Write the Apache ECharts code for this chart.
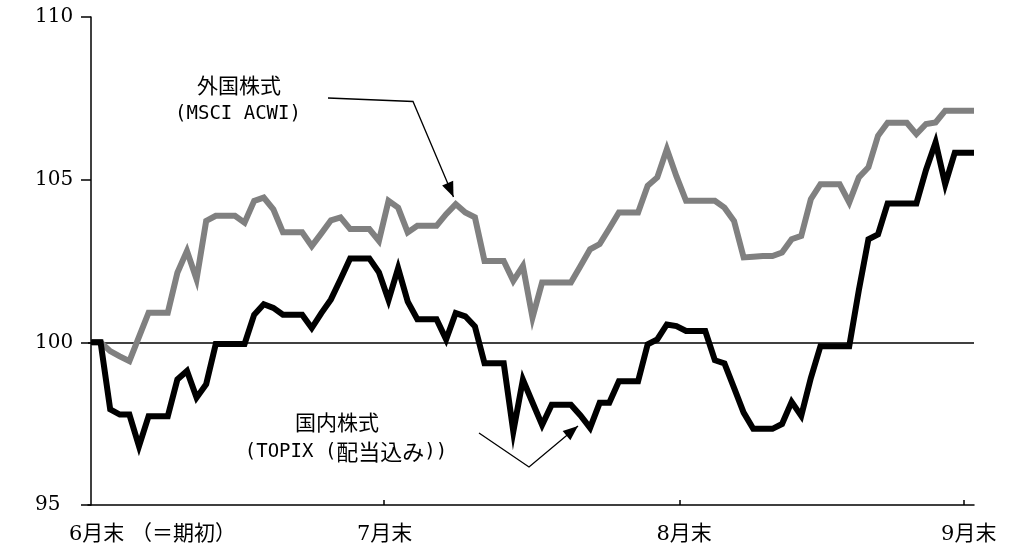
<!DOCTYPE html>
<html><head><meta charset="utf-8">
<script src="https://cdn.jsdelivr.net/npm/echarts@6/dist/echarts.min.js"></script>
<style>html,body{margin:0;padding:0;background:#fff}#c{width:1029px;height:554px}</style>
</head><body><div id="c"></div>
<script>
// Daily values, index 0 = 6/30 ... index 92 = 9/30 (6/30 = 100)
const foreign = [
100.00,100.00,99.73,99.57,99.42,100.17,100.91,100.91,100.91,102.14,
102.81,101.94,103.73,103.89,103.89,103.89,103.68,104.35,104.45,104.09,
103.38,103.38,103.38,102.96,103.35,103.75,103.84,103.48,103.48,103.48,
103.12,104.35,104.14,103.38,103.58,103.58,103.58,103.94,104.25,103.99,
103.84,102.50,102.50,102.50,101.89,102.35,100.76,101.84,101.84,101.84,
101.84,102.35,102.86,103.02,103.50,103.99,103.99,103.99,104.81,105.07,
105.94,105.10,104.35,104.35,104.35,104.35,104.14,103.73,102.61,102.63,
102.65,102.65,102.76,103.17,103.27,104.40,104.86,104.86,104.86,104.30,
105.07,105.38,106.35,106.75,106.75,106.75,106.40,106.71,106.76,107.12,
107.12,107.12,107.12];
const domestic = [
100.00,100.00,97.94,97.78,97.78,96.81,97.73,97.73,97.73,98.86,
99.12,98.30,98.71,99.95,99.95,99.95,99.95,100.85,101.17,101.06,
100.85,100.85,100.85,100.44,100.90,101.32,101.94,102.58,102.58,102.58,
102.15,101.30,102.28,101.25,100.71,100.71,100.71,100.09,100.90,100.80,
100.49,99.36,99.36,99.36,97.26,98.85,98.15,97.46,98.08,98.08,
98.08,97.75,97.37,98.14,98.14,98.80,98.80,98.80,99.94,100.09,
100.55,100.50,100.35,100.35,100.35,99.45,99.35,98.60,97.84,97.34,
97.34,97.34,97.49,98.17,97.74,98.90,99.88,99.88,99.88,99.88,
101.60,103.17,103.32,104.27,104.27,104.27,104.27,105.30,106.15,104.86,
105.83,105.83,105.83];
const yTickValues = [95, 100, 105, 110];
const xTickPos = [30.5, 61.35, 90.95];
const xLabelPos = [6.4, 30.6, 61.8, 91.45];
const xLabelText = ['6月末 （＝期初）', '7月末', '8月末', '9月末'];
const baseLine = 100;

const toPairs = arr => arr.map((v, i) => [i, v]);
const chart = echarts.init(document.getElementById('c'), null, {renderer: 'canvas'});

function arrowHead(p1, p2, len, half) {
  const dx = p2[0] - p1[0], dy = p2[1] - p1[1];
  const L = Math.hypot(dx, dy), ux = dx / L, uy = dy / L;
  const bx = p2[0] - ux * len, by = p2[1] - uy * len;
  return [[p2[0], p2[1]], [bx - uy * half, by + ux * half], [bx + uy * half, by - ux * half]];
}
const arrow1 = [[328, 98], [413, 101.5], [453.5, 197]];
const arrow2 = [[479, 433], [529, 467], [578, 426]];
const cjk = '"Noto Sans CJK JP", sans-serif';
const mono = '"DejaVu Sans Mono", "Noto Sans CJK JP", monospace';

chart.setOption({
  animation: false,
  backgroundColor: '#fff',
  grid: {left: 88, right: 55, top: 17, bottom: 49, containLabel: false},
  xAxis: {
    type: 'value', min: -0.3125, max: 92,
    axisLine: {show: true, lineStyle: {color: '#000', width: 1.5}},
    axisTick: {show: true, inside: true, length: 5, customValues: xTickPos, lineStyle: {color: '#000', width: 1.5}},
    axisLabel: {
      show: true, customValues: xLabelPos, margin: 19,
      color: '#000', fontSize: 21, fontFamily: '"DejaVu Serif", "Noto Sans CJK JP", serif',
      formatter: v => {
        let best = 0;
        xLabelPos.forEach((p, k) => { if (Math.abs(p - v) < Math.abs(xLabelPos[best] - v)) best = k; });
        return xLabelText[best];
      }
    },
    splitLine: {show: false}
  },
  yAxis: {
    type: 'value', min: yTickValues[0], max: yTickValues[yTickValues.length - 1], interval: 5,
    axisLine: {show: true, lineStyle: {color: '#000', width: 1.5}},
    axisTick: {show: true, inside: false, length: 10, lineStyle: {color: '#000', width: 1.5}},
    axisLabel: {margin: 53, align: 'left', color: '#000', fontSize: 20, fontFamily: '"DejaVu Serif", serif'},
    splitLine: {show: false}
  },
  series: [
    {
      name: '外国株式', type: 'line', data: toPairs(foreign), showSymbol: false, symbol: 'none',
      lineStyle: {color: '#808080', width: 6, join: 'miter', cap: 'butt'}, z: 2
    },
    {
      name: '国内株式', type: 'line', data: toPairs(domestic), showSymbol: false, symbol: 'none',
      lineStyle: {color: '#000', width: 6, join: 'miter', cap: 'butt'}, z: 3,
      markLine: {
        silent: true, symbol: 'none', label: {show: false},
        lineStyle: {color: '#000', width: 1.5, type: 'solid'},
        data: [{yAxis: baseLine}], z: 1
      }
    }
  ],
  graphic: [
    {type: 'text', style: {text: '外国株式', x: 239, y: 85, font: '21px ' + cjk, fill: '#000', align: 'center', verticalAlign: 'middle'}},
    {type: 'text', style: {text: '(MSCI ACWI)', x: 238, y: 114, font: '19px ' + mono, fill: '#000', align: 'center', verticalAlign: 'middle'}},
    {type: 'text', style: {text: '国内株式', x: 337, y: 422, font: '21px ' + cjk, fill: '#000', align: 'center', verticalAlign: 'middle'}},
    {type: 'text', style: {
      text: '{a|(TOPIX (}{b|配当込み}{a|))}', x: 346, y: 452, align: 'center', verticalAlign: 'middle', fill: '#000',
      rich: {a: {font: '19px ' + mono, fill: '#000'}, b: {font: '22px ' + cjk, fill: '#000'}}
    }},
    {type: 'polyline', shape: {points: arrow1}, style: {stroke: '#000', lineWidth: 1.3, fill: null}},
    {type: 'polygon', shape: {points: arrowHead(arrow1[1], arrow1[2], 15, 6)}, style: {fill: '#000'}},
    {type: 'polyline', shape: {points: arrow2}, style: {stroke: '#000', lineWidth: 1.3, fill: null}},
    {type: 'polygon', shape: {points: arrowHead(arrow2[1], arrow2[2], 15, 6)}, style: {fill: '#000'}}
  ]
});
</script></body></html>
